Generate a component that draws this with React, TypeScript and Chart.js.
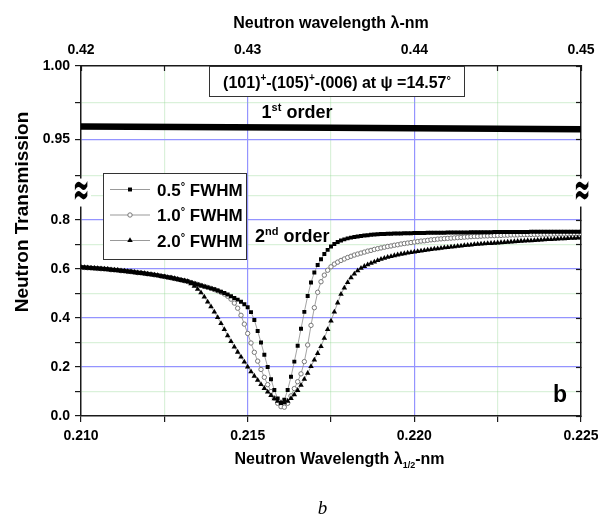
import React, { useEffect, useRef } from 'react';
import { Chart, registerables } from 'chart.js';
import { drawPoint } from 'chart.js/helpers';

Chart.register(...registerables);

const FONT = '"Liberation Sans", Arial, Helvetica, sans-serif';

// ---- sampling grid of the simulated curves (lambda/2, nm) ----
const LAMBDA_START = 0.21;
const LAMBDA_STEP = 0.0001;

// ---- 2nd order transmission, 0.5 deg FWHM (filled squares) ----
const FWHM_05 = [
  0.607, 0.606, 0.605, 0.604, 0.603, 0.602, 0.601, 0.600, 0.599, 0.597,
  0.596, 0.595, 0.593, 0.592, 0.590, 0.589, 0.587, 0.585, 0.584, 0.582,
  0.580, 0.578, 0.576, 0.574, 0.571, 0.569, 0.566, 0.564, 0.561, 0.558,
  0.555, 0.552, 0.549, 0.545, 0.541, 0.537, 0.533, 0.529, 0.525, 0.521,
  0.517, 0.512, 0.507, 0.502, 0.496, 0.489, 0.482, 0.475, 0.466, 0.456,
  0.444, 0.424, 0.392, 0.347, 0.300, 0.250, 0.200, 0.150, 0.106, 0.072,
  0.053, 0.066, 0.106, 0.160, 0.222, 0.287, 0.356, 0.425, 0.490, 0.545,
  0.586, 0.616, 0.640, 0.661, 0.678, 0.692, 0.702, 0.710, 0.716, 0.721,
  0.725, 0.728, 0.731, 0.733, 0.735, 0.737, 0.738, 0.740, 0.741, 0.742,
  0.743, 0.743, 0.744, 0.744, 0.745, 0.745, 0.745, 0.746, 0.746, 0.746,
  0.747, 0.747, 0.747, 0.747, 0.748, 0.748, 0.748, 0.748, 0.748, 0.748,
  0.749, 0.749, 0.749, 0.749, 0.749, 0.749, 0.749, 0.750, 0.750, 0.750,
  0.750, 0.750, 0.750, 0.750, 0.751, 0.751, 0.751, 0.751, 0.751, 0.751,
  0.751, 0.751, 0.751, 0.751, 0.751, 0.752, 0.752, 0.752, 0.752, 0.752,
  0.752, 0.752, 0.752, 0.752, 0.752, 0.752, 0.752, 0.752, 0.752, 0.752, 0.752,
];

// ---- 2nd order transmission, 1.0 deg FWHM (open circles) ----
const FWHM_10 = [
  0.607, 0.606, 0.605, 0.604, 0.603, 0.602, 0.601, 0.600, 0.599, 0.597,
  0.596, 0.595, 0.593, 0.592, 0.590, 0.589, 0.587, 0.585, 0.584, 0.582,
  0.580, 0.578, 0.576, 0.574, 0.571, 0.569, 0.566, 0.564, 0.561, 0.558,
  0.555, 0.552, 0.549, 0.545, 0.541, 0.537, 0.533, 0.529, 0.525, 0.521,
  0.516, 0.511, 0.505, 0.498, 0.489, 0.477, 0.461, 0.440, 0.411, 0.375,
  0.337, 0.298, 0.260, 0.224, 0.190, 0.158, 0.128, 0.100, 0.073, 0.052,
  0.038, 0.036, 0.052, 0.082, 0.112, 0.140, 0.172, 0.222, 0.290, 0.370,
  0.442, 0.505, 0.548, 0.575, 0.595, 0.609, 0.620, 0.628, 0.635, 0.641,
  0.647, 0.652, 0.657, 0.661, 0.665, 0.669, 0.673, 0.676, 0.680, 0.683,
  0.686, 0.689, 0.692, 0.694, 0.697, 0.699, 0.702, 0.704, 0.706, 0.708,
  0.710, 0.712, 0.714, 0.715, 0.717, 0.719, 0.720, 0.722, 0.723, 0.724,
  0.725, 0.726, 0.727, 0.728, 0.729, 0.730, 0.731, 0.732, 0.733, 0.733,
  0.734, 0.735, 0.735, 0.736, 0.736, 0.737, 0.737, 0.738, 0.738, 0.739,
  0.739, 0.739, 0.740, 0.740, 0.740, 0.741, 0.741, 0.741, 0.742, 0.742,
  0.742, 0.742, 0.743, 0.743, 0.743, 0.743, 0.743, 0.744, 0.744, 0.744, 0.744,
];

// ---- 2nd order transmission, 2.0 deg FWHM (filled triangles) ----
const FWHM_20 = [
  0.607, 0.606, 0.605, 0.604, 0.603, 0.602, 0.601, 0.600, 0.599, 0.597,
  0.596, 0.595, 0.593, 0.592, 0.590, 0.589, 0.587, 0.585, 0.584, 0.582,
  0.580, 0.578, 0.576, 0.574, 0.571, 0.569, 0.566, 0.564, 0.561, 0.558,
  0.555, 0.552, 0.549, 0.540, 0.530, 0.518, 0.503, 0.486, 0.466, 0.446,
  0.425, 0.402, 0.378, 0.353, 0.328, 0.304, 0.282, 0.261, 0.241, 0.221,
  0.200, 0.181, 0.163, 0.146, 0.129, 0.113, 0.098, 0.084, 0.071, 0.061,
  0.055, 0.055, 0.061, 0.072, 0.087, 0.105, 0.126, 0.150, 0.175, 0.202,
  0.229, 0.256, 0.284, 0.318, 0.353, 0.388, 0.425, 0.462, 0.497, 0.523,
  0.545, 0.565, 0.580, 0.593, 0.603, 0.611, 0.618, 0.624, 0.629, 0.635,
  0.640, 0.644, 0.648, 0.651, 0.655, 0.658, 0.661, 0.663, 0.666, 0.668,
  0.670, 0.672, 0.674, 0.676, 0.678, 0.680, 0.682, 0.683, 0.685, 0.687,
  0.688, 0.690, 0.691, 0.693, 0.694, 0.696, 0.697, 0.698, 0.700, 0.701,
  0.702, 0.703, 0.704, 0.705, 0.706, 0.707, 0.708, 0.709, 0.710, 0.711,
  0.712, 0.713, 0.714, 0.715, 0.716, 0.716, 0.717, 0.718, 0.719, 0.720,
  0.721, 0.721, 0.722, 0.723, 0.724, 0.724, 0.725, 0.726, 0.726, 0.727, 0.728,
];

// ---- 1st order transmission (all three FWHM overlap) ----
const FIRST_ORDER_X = [0.21, 0.2175, 0.225];
const FIRST_ORDER = [0.9587, 0.9578, 0.9569];

const LAMBDA = FWHM_05.map((_, i) => +(LAMBDA_START + i * LAMBDA_STEP).toFixed(4));

// ---- axes ----
const X_MAJOR = [0.21, 0.215, 0.22, 0.225];
const X_LABELS = ['0.210', '0.215', '0.220', '0.225'];
const X_MINOR = [0.2125, 0.2175, 0.2225];

const TOP_MAJOR = [0.42, 0.43, 0.44, 0.45];
const TOP_LABELS = ['0.42', '0.43', '0.44', '0.45'];
const TOP_MINOR = [0.425, 0.435, 0.445];

const YLOW_MAJOR = [0, 0.2, 0.4, 0.6, 0.8];
const YLOW_LABELS = ['0.0', '0.2', '0.4', '0.6', '0.8'];
const YLOW_MINOR = [0.1, 0.3, 0.5, 0.7, 0.9];

const YUP_MAJOR = [0.95, 1.0];
const YUP_LABELS = ['0.95', '1.00'];
const YUP_MINOR = [0.925, 0.975];

const LEGEND_LABELS = ['0.5', '1.0', '2.0'];

const BLUE = '#9494ff';
const GREEN = 'rgba(140,210,140,0.32)';
const AXIS = '#1a1a1a';

const near = (a: number, b: number) => Math.abs(a - b) < 1e-6;
const sorted = (a: number[], b: number[]) => [...a, ...b].sort((p, q) => p - q);
const labelFor = (majors: number[], labels: string[]) => (v: any) => {
  const i = majors.findIndex((m) => near(m, Number(v)));
  return i >= 0 ? labels[i] : '';
};
const gridColor = (majors: number[], minors: number[], edges: number[]) => (c: any) => {
  const v = c.tick ? c.tick.value : null;
  if (v == null) return 'rgba(0,0,0,0)';
  if (edges.some((e) => near(e, v))) return 'rgba(0,0,0,0)';
  if (majors.some((m) => near(m, v))) return BLUE;
  if (minors.some((m) => near(m, v))) return GREEN;
  return 'rgba(0,0,0,0)';
};
const setTicks = (vals: number[]) => (axis: any) => {
  axis.ticks = vals.map((value) => ({ value }));
};
const tickFont = { family: FONT, size: 14, weight: 'bold' as const };

// ---- chart area geometry ----
const AREA_LEFT = 81;
const AREA_TOP = 66;
const AREA_BOTTOM = 416;
const CANVAS_W = 598;
const CANVAS_H = 518;
const PAD_RIGHT = 17;
const Y_UP_MIN = 0.913;
const Y_LOW_MAX = 0.908;
const UP_PX_PER_UNIT = 1466;
const LOW_PX_PER_UNIT = 245;

function richText(ctx: CanvasRenderingContext2D, parts: { t: string; s: number; dy?: number; style?: string }[], x: number, y: number, align: 'left' | 'center') {
  let total = 0;
  const widths = parts.map((p) => {
    ctx.font = `${p.style || 'bold'} ${p.s}px ${FONT}`;
    const w = ctx.measureText(p.t).width;
    total += w;
    return w;
  });
  let cx = align === 'center' ? x - total / 2 : x;
  ctx.textAlign = 'left';
  ctx.textBaseline = 'alphabetic';
  parts.forEach((p, i) => {
    ctx.font = `${p.style || 'bold'} ${p.s}px ${FONT}`;
    ctx.fillText(p.t, cx, y + (p.dy || 0));
    cx += widths[i];
  });
}

const decorPlugin = {
  id: 'decor',
  afterDraw(chart: any) {
    const ctx: CanvasRenderingContext2D = chart.ctx;
    const ca = chart.chartArea;
    ctx.save();
    ctx.fillStyle = '#000';

    // axis break marks
    const jy = chart.scales.yTop.bottom - 2;
    [ca.left, ca.right + 1].forEach((ax: number) => {
      ctx.save();
      ctx.fillStyle = '#fff';
      ctx.fillRect(ax - 9, jy - 13, 19, 28);
      ctx.fillStyle = '#000';
      ctx.font = 'bold 21px "DejaVu Sans"';
      ctx.textAlign = 'center';
      ctx.textBaseline = 'middle';
      ctx.translate(ax, jy + 1);
      ctx.scale(0.95, 2.2);
      ctx.fillText('\u2248', 0, 0);
      ctx.restore();
    });

    // y title
    ctx.save();
    ctx.translate(28, 212);
    ctx.rotate(-Math.PI / 2);
    ctx.font = `bold 19px ${FONT}`;
    ctx.textAlign = 'center';
    ctx.textBaseline = 'alphabetic';
    ctx.fillText('Neutron Transmission', 0, 0);
    ctx.restore();

    // bottom title with subscript
    richText(ctx, [
      { t: 'Neutron Wavelength \u03bb', s: 16 },
      { t: '1/2', s: 9, dy: 4 },
      { t: '-nm', s: 16 },
    ], 339.5, 463.5, 'center');

    // annotation box
    ctx.fillStyle = '#fff';
    ctx.fillRect(209.5, 66.5, 255, 30);
    ctx.strokeStyle = '#333';
    ctx.lineWidth = 1;
    ctx.strokeRect(209.5, 66.5, 255, 30);
    ctx.fillStyle = '#000';
    richText(ctx, [
      { t: '(101)', s: 16 },
      { t: '+', s: 10, dy: -7 },
      { t: '-(105)', s: 16 },
      { t: '+', s: 10, dy: -7 },
      { t: '-(006) at \u03c8 =14.57', s: 16 },
      { t: '\u00b0', s: 11, dy: -4 },
    ], 337, 88, 'center');

    // order labels
    richText(ctx, [
      { t: '1', s: 18 },
      { t: 'st', s: 11, dy: -7 },
      { t: ' order', s: 18 },
    ], 297, 118, 'center');
    richText(ctx, [
      { t: '2', s: 18 },
      { t: 'nd', s: 11, dy: -7 },
      { t: ' order', s: 18 },
    ], 255, 241.5, 'left');

    // legend
    ctx.fillStyle = '#fff';
    ctx.fillRect(103.5, 173.5, 143, 86);
    ctx.strokeStyle = '#333';
    ctx.lineWidth = 1;
    ctx.strokeRect(103.5, 173.5, 143, 86);
    const ds = chart.data.datasets;
    [0, 1, 2].forEach((i) => {
      const d = ds[i];
      const y = 189.5 + i * 25.5;
      ctx.strokeStyle = '#999';
      ctx.lineWidth = 1;
      ctx.beginPath();
      ctx.moveTo(110, y);
      ctx.lineTo(150, y);
      ctx.stroke();
      ctx.fillStyle = d.pointBackgroundColor;
      ctx.strokeStyle = d.pointBorderColor;
      ctx.lineWidth = d.pointBorderWidth;
      drawPoint(ctx, { pointStyle: d.pointStyle, radius: d.pointRadius, borderWidth: d.pointBorderWidth, rotation: 0 } as any, 130, y);
      ctx.fillStyle = '#000';
      richText(ctx, [
        { t: LEGEND_LABELS[i], s: 17 },
        { t: '\u00b0', s: 11, dy: -6 },
        { t: ' FWHM', s: 17 },
      ], 157, y + 6, 'left');
    });

    // panel letter
    ctx.fillStyle = '#000';
    ctx.font = `bold 23px ${FONT}`;
    ctx.textAlign = 'left';
    ctx.textBaseline = 'alphabetic';
    ctx.fillText('b', 553, 401.5);

    // caption
    ctx.font = 'italic 19px "Liberation Serif", "Times New Roman", serif';
    ctx.textAlign = 'center';
    ctx.fillText('b', 322.5, 514);

    ctx.restore();
  },
};

function points(values: number[]) {
  return LAMBDA.map((x, i) => ({ x, y: values[i] }));
}

export default function App() {
  const ref = useRef<HTMLCanvasElement>(null);

  useEffect(() => {
    const canvas = ref.current;
    if (!canvas) return;
    Chart.defaults.font.family = FONT;
    const lineCommon = {
      xAxisID: 'x',
      yAxisID: 'y',
      borderColor: '#8c8c8c',
      borderWidth: 0.8,
      tension: 0,
      fill: false,
    };
    const upWeight = (1 - Y_UP_MIN) * UP_PX_PER_UNIT;
    const lowWeight = Y_LOW_MAX * LOW_PX_PER_UNIT;
    const chart = new Chart(canvas, {
      type: 'line',
      data: {
        datasets: [
          {
            ...lineCommon,
            label: '0.5\u00b0 FWHM',
            data: points(FWHM_05),
            pointStyle: 'rect',
            pointRadius: 2.8,
            pointBackgroundColor: '#000',
            pointBorderColor: '#000',
            pointBorderWidth: 0,
            order: 1,
          } as any,
          {
            ...lineCommon,
            label: '1.0\u00b0 FWHM',
            data: points(FWHM_10),
            pointStyle: 'circle',
            pointRadius: 2.2,
            pointBackgroundColor: '#fff',
            pointBorderColor: '#777',
            pointBorderWidth: 1,
            order: 3,
          } as any,
          {
            ...lineCommon,
            label: '2.0\u00b0 FWHM',
            data: points(FWHM_20),
            pointStyle: 'triangle',
            pointRadius: 3.2,
            pointBackgroundColor: '#000',
            pointBorderColor: '#000',
            pointBorderWidth: 0,
            order: 2,
          } as any,
          {
            label: '1st order',
            data: FIRST_ORDER_X.map((x, i) => ({ x, y: FIRST_ORDER[i] })),
            xAxisID: 'x',
            yAxisID: 'yTop',
            borderColor: '#000',
            borderWidth: 6.5,
            pointRadius: 0,
            tension: 0,
            fill: false,
            order: 0,
          } as any,
        ],
      },
      options: {
        responsive: false,
        animation: false,
        devicePixelRatio: 1,
        events: [],
        layout: { padding: { left: 0, right: PAD_RIGHT, top: 0, bottom: 0 } },
        plugins: { legend: { display: false }, tooltip: { enabled: false }, title: { display: false } },
        scales: {
          x: {
            type: 'linear',
            position: 'bottom',
            min: 0.21,
            max: 0.225,
            afterBuildTicks: setTicks(sorted(X_MAJOR, X_MINOR)),
            ticks: { callback: labelFor(X_MAJOR, X_LABELS), font: tickFont, color: '#000', padding: 6, autoSkip: false, maxRotation: 0, minRotation: 0 },
            grid: { color: gridColor(X_MAJOR, X_MINOR, [0.21, 0.225]), lineWidth: 1.2, tickColor: AXIS, tickLength: 6, tickWidth: 1.2 },
            border: { color: AXIS, width: 1.5 },
            afterFit: (s: any) => { s.height = CANVAS_H - AREA_BOTTOM; s.paddingLeft = 0; s.paddingRight = 0; },
          },
          xTop: {
            type: 'linear',
            position: 'top',
            min: 0.42,
            max: 0.45,
            afterBuildTicks: setTicks(sorted(TOP_MAJOR, TOP_MINOR)),
            ticks: { callback: labelFor(TOP_MAJOR, TOP_LABELS), font: tickFont, color: '#000', padding: 12.6, autoSkip: false, maxRotation: 0, minRotation: 0 },
            grid: { drawOnChartArea: false, tickColor: AXIS, tickLength: -5, tickWidth: 1.2 },
            border: { color: AXIS, width: 1.5 },
            title: { display: true, text: 'Neutron wavelength \u03bb-nm', font: { family: FONT, size: 16, weight: 'bold' }, color: '#000', padding: { top: 13.7, bottom: 0 } },
            afterFit: (s: any) => { s.height = AREA_TOP; s.paddingLeft = 0; s.paddingRight = 0; },
          },
          // left side: lower segment listed first (left boxes are placed in reverse order)
          y: {
            type: 'linear',
            position: 'left',
            stack: 'left',
            stackWeight: lowWeight,
            min: 0,
            max: Y_LOW_MAX,
            afterBuildTicks: setTicks(sorted(YLOW_MAJOR, YLOW_MINOR)),
            ticks: { callback: labelFor(YLOW_MAJOR, YLOW_LABELS), font: tickFont, color: '#000', padding: 5, autoSkip: false },
            grid: { color: gridColor(YLOW_MAJOR, YLOW_MINOR, [0]), lineWidth: 1.2, tickColor: AXIS, tickLength: 6, tickWidth: 1.2 },
            border: { color: AXIS, width: 1.5 },
            afterFit: (s: any) => { s.width = AREA_LEFT; s.paddingTop = 0; s.paddingBottom = 0; },
          },
          yTop: {
            type: 'linear',
            position: 'left',
            stack: 'left',
            stackWeight: upWeight,
            min: Y_UP_MIN,
            max: 1.0,
            afterBuildTicks: setTicks(sorted(YUP_MAJOR, YUP_MINOR)),
            ticks: { callback: labelFor(YUP_MAJOR, YUP_LABELS), font: tickFont, color: '#000', padding: 5, autoSkip: false },
            grid: { color: gridColor(YUP_MAJOR, YUP_MINOR, [1.0]), lineWidth: 1.2, tickColor: AXIS, tickLength: 6, tickWidth: 1.2 },
            border: { color: AXIS, width: 1.5 },
            afterFit: (s: any) => { s.width = AREA_LEFT; s.paddingTop = 0; s.paddingBottom = 0; },
          },
          yTopR: {
            type: 'linear',
            position: 'right',
            stack: 'right',
            stackWeight: upWeight,
            min: Y_UP_MIN,
            max: 1.0,
            afterBuildTicks: setTicks(sorted(YUP_MAJOR, YUP_MINOR)),
            ticks: { display: false },
            grid: { drawOnChartArea: false, tickColor: AXIS, tickLength: -5, tickWidth: 1.2 },
            border: { color: AXIS, width: 1.5 },
            afterFit: (s: any) => { s.width = 0; s.paddingTop = 0; s.paddingBottom = 0; },
          },
          yR: {
            type: 'linear',
            position: 'right',
            stack: 'right',
            stackWeight: lowWeight,
            min: 0,
            max: Y_LOW_MAX,
            afterBuildTicks: setTicks(sorted(YLOW_MAJOR, YLOW_MINOR)),
            ticks: { display: false },
            grid: { drawOnChartArea: false, tickColor: AXIS, tickLength: -5, tickWidth: 1.2 },
            border: { color: AXIS, width: 1.5 },
            afterFit: (s: any) => { s.width = 0; s.paddingTop = 0; s.paddingBottom = 0; },
          },
        } as any,
      },
      plugins: [decorPlugin as any],
    });
    return () => chart.destroy();
  }, []);

  return (
    <div style={{ position: 'absolute', left: 0, top: 0, width: CANVAS_W, height: CANVAS_H, background: '#fff' }}>
      <canvas ref={ref} width={CANVAS_W} height={CANVAS_H} style={{ display: 'block', width: CANVAS_W, height: CANVAS_H }} />
    </div>
  );
}
